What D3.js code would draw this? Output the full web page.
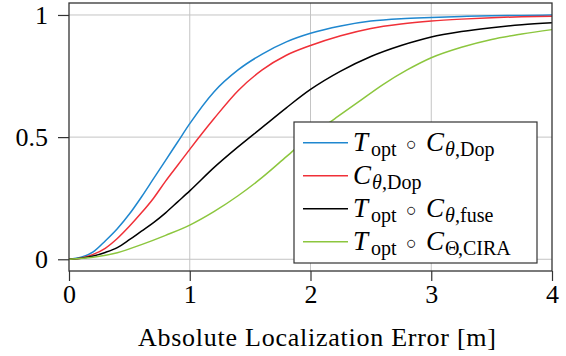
<!DOCTYPE html>
<html>
<head>
<meta charset="utf-8">
<script src="https://cdn.jsdelivr.net/npm/d3@7"></script>
<style>
  body { margin: 0; background: #fff; }
  svg text { font-family: "Liberation Serif", "Times New Roman", Times, "DejaVu Serif", serif; fill: #000; }
</style>
</head>
<body>
<div id="root"></div>
<script>
// CDF readings (error in m -> fraction)
const errGrid = [0, 0.1, 0.2, 0.3, 0.4, 0.5, 0.6, 0.7, 0.8, 0.9, 1.0, 1.2, 1.4, 1.6, 1.8, 2.0, 2.25, 2.5, 2.75, 3.0, 3.25, 3.5, 3.75, 4.0];
const cdfOptDop = [0, 0.008, 0.03, 0.075, 0.125, 0.185, 0.255, 0.33, 0.405, 0.48, 0.555, 0.685, 0.775, 0.84, 0.89, 0.925, 0.955, 0.975, 0.985, 0.99, 0.994, 0.997, 0.998, 1.0];
const cdfDop = [0, 0.005, 0.02, 0.045, 0.085, 0.135, 0.19, 0.25, 0.32, 0.385, 0.45, 0.575, 0.69, 0.775, 0.835, 0.875, 0.915, 0.945, 0.963, 0.975, 0.983, 0.989, 0.993, 0.995];
const cdfOptFuse = [0, 0.004, 0.013, 0.028, 0.048, 0.08, 0.115, 0.15, 0.19, 0.235, 0.28, 0.375, 0.46, 0.54, 0.62, 0.695, 0.77, 0.83, 0.875, 0.91, 0.932, 0.948, 0.96, 0.968];
const errGridCira = [0, 0.2, 0.4, 0.6, 0.8, 1.0, 1.2, 1.4, 1.6, 1.8, 2.0, 2.2, 2.4, 2.6, 2.8, 3.0, 3.25, 3.5, 3.75, 4.0];
const cdfOptCira = [0, 0.008, 0.027, 0.06, 0.098, 0.14, 0.195, 0.26, 0.335, 0.42, 0.505, 0.575, 0.645, 0.715, 0.775, 0.825, 0.868, 0.9, 0.922, 0.94];

const xTicks = [0, 1, 2, 3, 4];
const yTicks = [0, 0.5, 1];
const yTickLabels = ['0', '0.5', '1'];
const xLabel = 'Absolute Localization Error [m]';

// legend math: each glyph run is [text, kind, x offset from text start]
// kind: 'v' italic variable, 's' roman subscript, 'si' italic subscript, 'op' operator
const legendItems = [
  { color: '#1f87cf', runs: [['T', 'v', 0], ['opt', 's', 18], ['○', 'op', 53], ['C', 'v', 73], ['θ', 'si', 92], [',Dop', 's', 102]] },
  { color: '#f03038', runs: [['C', 'v', 0], ['θ', 'si', 19], [',Dop', 's', 29]] },
  { color: '#000000', runs: [['T', 'v', 0], ['opt', 's', 18], ['○', 'op', 53], ['C', 'v', 73], ['θ', 'si', 92], [',fuse', 's', 102]] },
  { color: '#8cc63e', runs: [['T', 'v', 0], ['opt', 's', 18], ['○', 'op', 53], ['C', 'v', 73], ['Θ', 's', 92], [',CIRA', 's', 105]] }
];

const series = [
  { xs: errGrid, ys: cdfOptDop, color: legendItems[0].color },
  { xs: errGrid, ys: cdfDop, color: legendItems[1].color },
  { xs: errGrid, ys: cdfOptFuse, color: legendItems[2].color },
  { xs: errGridCira, ys: cdfOptCira, color: legendItems[3].color }
];

const serif = '"Liberation Serif", "Times New Roman", Times, "DejaVu Serif", serif';

let width = 566;
let height = 356;

let svg = d3.select('#root')
  .append('svg')
  .attr('width', width)
  .attr('height', height)
  .attr('font-family', serif);

let xScale = d3.scaleLinear().domain([0, 4]).range([69, 552]);
let yScale = d3.scaleLinear().domain([-0.048, 1.049]).range([271, 3]);

// grid
svg.append('g')
  .selectAll('line')
  .data(xTicks.slice(1, -1))
  .enter().append('line')
  .attr('x1', d => xScale(d)).attr('x2', d => xScale(d))
  .attr('y1', yScale.range()[0]).attr('y2', yScale.range()[1])
  .attr('stroke', '#c4c4c4').attr('stroke-width', 1);

svg.append('g')
  .selectAll('line')
  .data(yTicks)
  .enter().append('line')
  .attr('x1', xScale.range()[0]).attr('x2', xScale.range()[1])
  .attr('y1', d => yScale(d)).attr('y2', d => yScale(d))
  .attr('stroke', '#c4c4c4').attr('stroke-width', 1);

// curves
let line = d3.line()
  .x(d => xScale(d[0]))
  .y(d => yScale(d[1]))
  .curve(d3.curveMonotoneX);

svg.append('g')
  .selectAll('path')
  .data(series)
  .enter().append('path')
  .attr('d', s => line(s.xs.map((x, i) => [x, s.ys[i]])))
  .attr('fill', 'none')
  .attr('stroke', s => s.color)
  .attr('stroke-width', 1.5);

// axes (ticks outside, box around plot)
let xAxis = d3.axisBottom(xScale).tickValues(xTicks).tickSize(10).tickFormat(d3.format('d'));
let yAxis = d3.axisLeft(yScale).tickValues(yTicks).tickSize(11).tickFormat((d, i) => yTickLabels[i]);

let gx = svg.append('g')
  .attr('transform', `translate(0, ${yScale.range()[0]})`)
  .call(xAxis);
let gy = svg.append('g')
  .attr('transform', `translate(${xScale.range()[0]}, 0)`)
  .call(yAxis);

[gx, gy].forEach(g => {
  g.attr('font-family', serif).attr('font-size', 26);
  g.select('.domain').remove();
  g.selectAll('.tick line').attr('stroke', '#333').attr('stroke-width', 1.2);
  g.selectAll('.tick text').attr('fill', '#000');
});
gx.selectAll('.tick text').attr('y', 14).attr('dy', '0.71em');
gy.selectAll('.tick text').attr('x', -21).attr('dy', '0.32em');

svg.append('rect')
  .attr('x', xScale.range()[0]).attr('y', yScale.range()[1])
  .attr('width', xScale.range()[1] - xScale.range()[0])
  .attr('height', yScale.range()[0] - yScale.range()[1])
  .attr('fill', 'none')
  .attr('stroke', '#333')
  .attr('stroke-width', 1.3);

svg.append('text')
  .attr('x', 317)
  .attr('y', 346)
  .attr('text-anchor', 'middle')
  .attr('font-size', 26)
  .attr('textLength', 358)
  .attr('lengthAdjust', 'spacing')
  .text(xLabel);

// legend
let legend = svg.append('g');
legend.append('rect')
  .attr('x', 294).attr('y', 122)
  .attr('width', 243).attr('height', 141)
  .attr('fill', '#fff')
  .attr('stroke', '#333')
  .attr('stroke-width', 1.2);

legendItems.forEach((item, i) => {
  let cy = 142.7 + i * 33;
  let base = cy + 8;
  legend.append('line')
    .attr('x1', 303).attr('x2', 348)
    .attr('y1', cy).attr('y2', cy)
    .attr('stroke', item.color)
    .attr('stroke-width', 1.5);

  let t = legend.append('text').attr('font-size', 26);
  item.runs.forEach(r => {
    let sub = r[1] === 's' || r[1] === 'si';
    let op = r[1] === 'op';
    t.append('tspan')
      .attr('x', 353 + r[2])
      .attr('y', sub ? base + 5 : (op ? base - 1 : base))
      .attr('font-size', sub ? 20 : (op ? 18 : 27))
      .attr('font-style', (r[1] === 'v' || r[1] === 'si') ? 'italic' : 'normal')
      .text(r[0]);
  });
});
</script>
</body>
</html>
